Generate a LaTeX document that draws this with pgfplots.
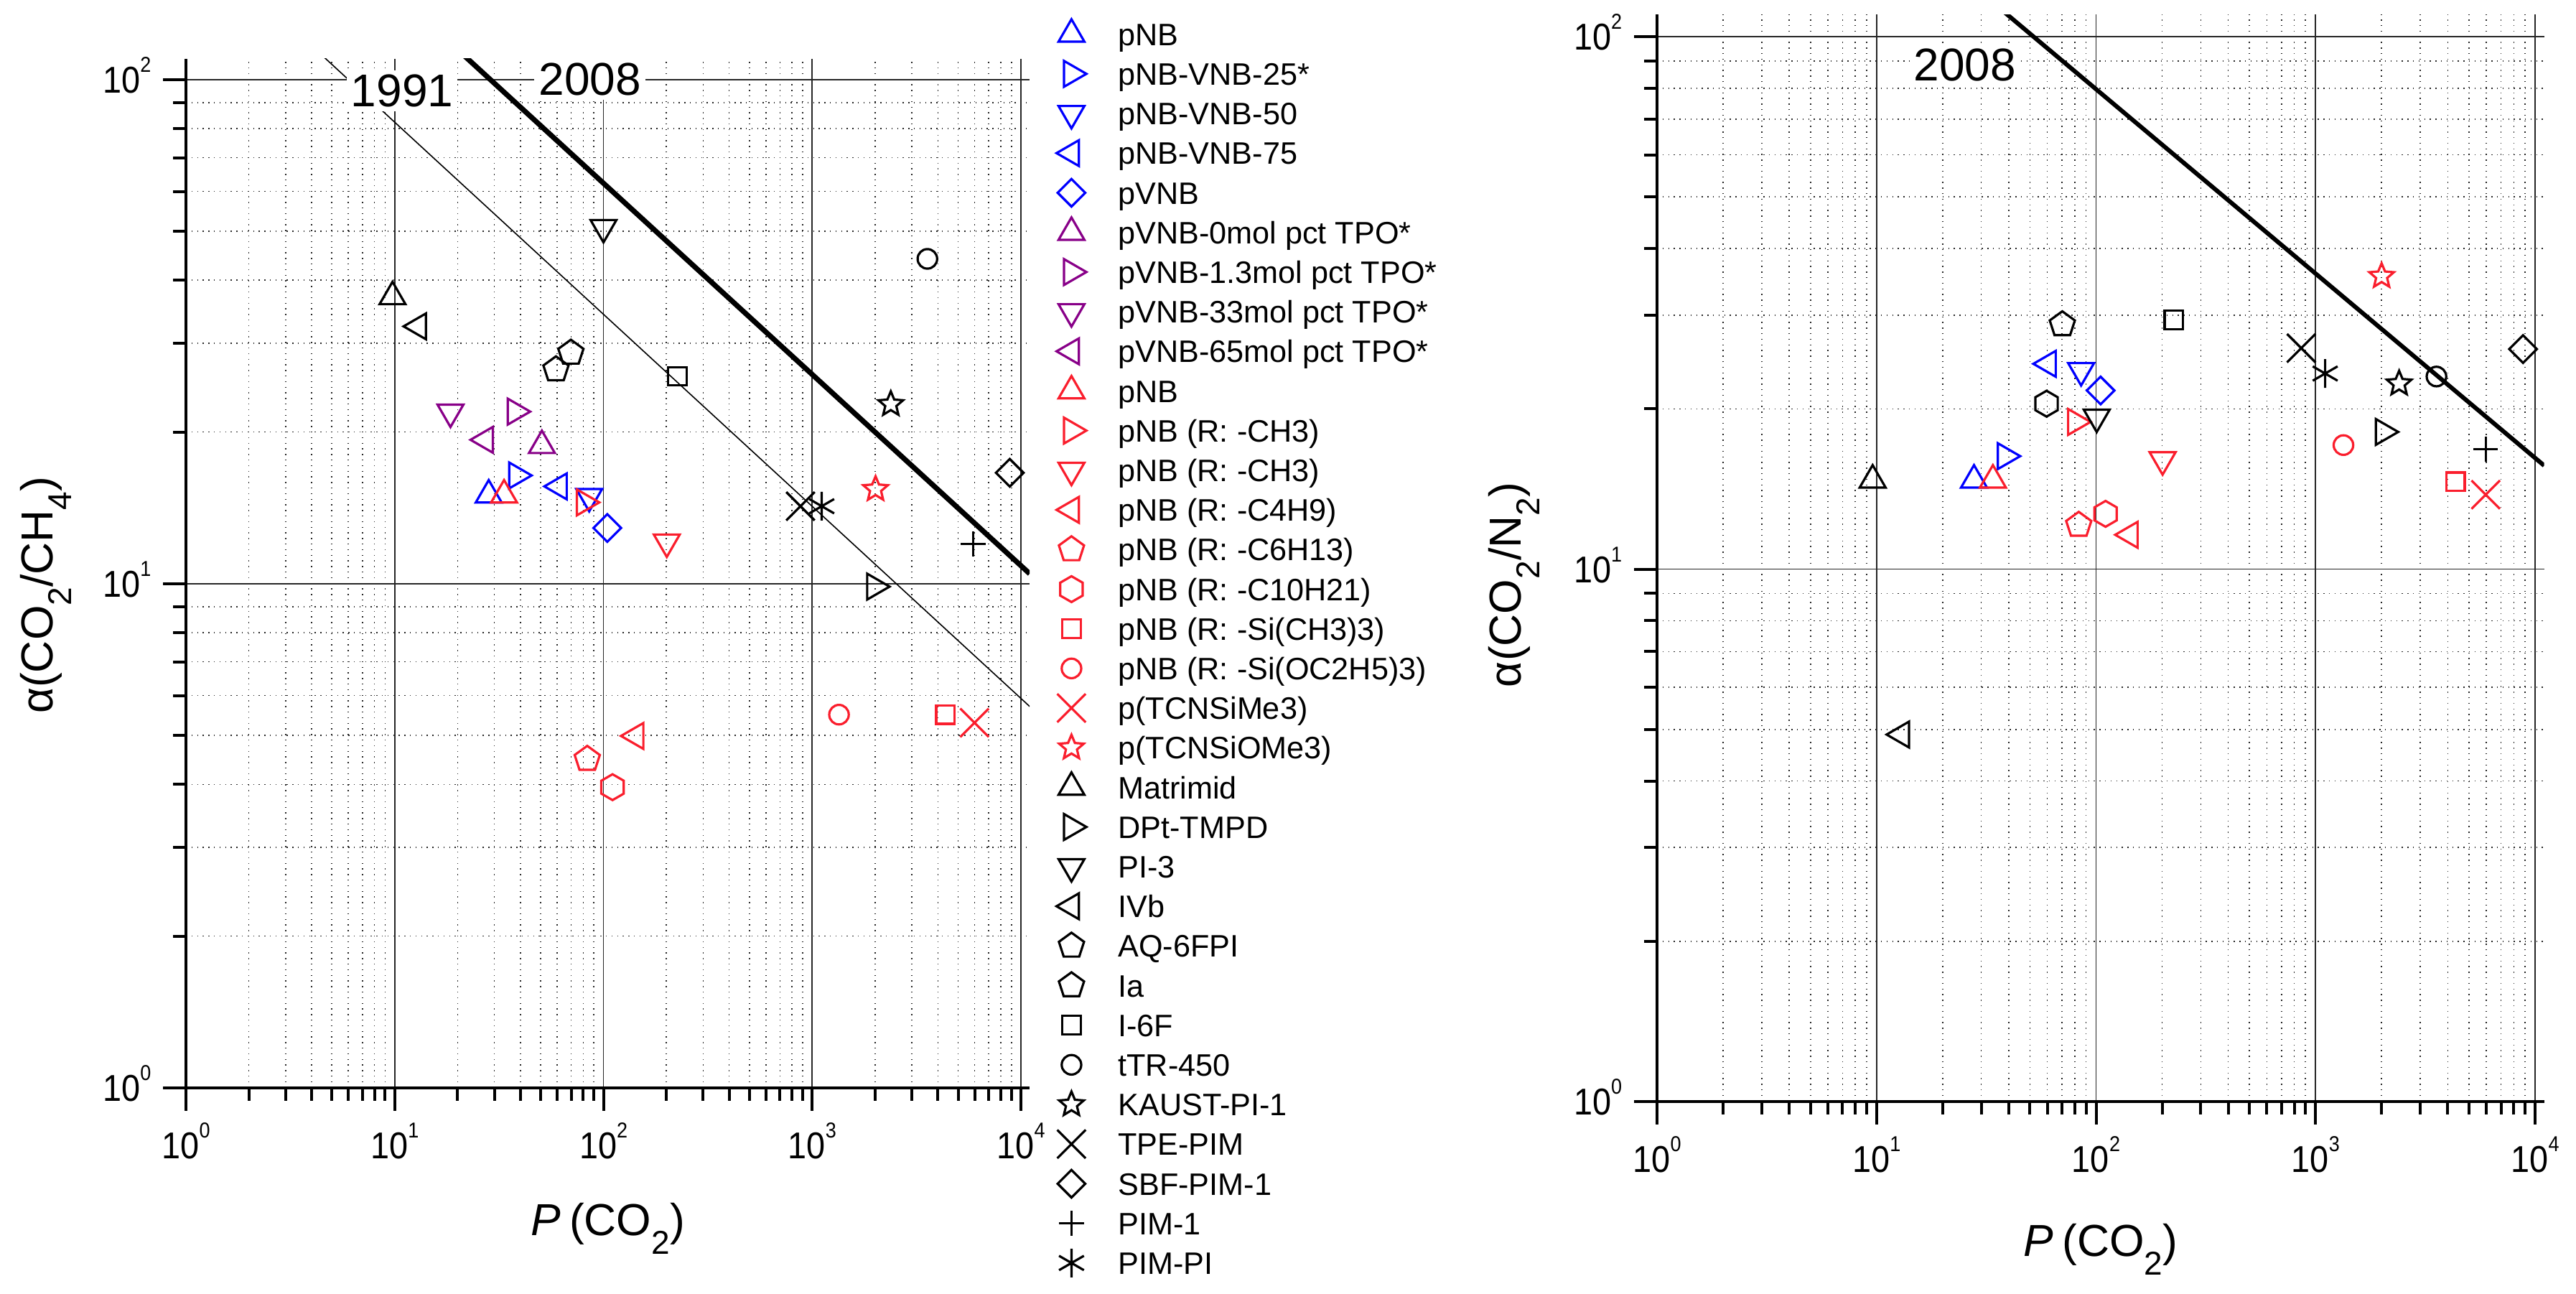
\documentclass[border=0pt]{standalone}
\usepackage{fontspec}
\setmainfont{Liberation Sans}
\newfontfamily\tickfont[FakeStretch=0.9]{Liberation Sans}
\usepackage{pgfplots}
\pgfplotsset{compat=1.18}

\definecolor{myblue}{RGB}{0,0,255}
\definecolor{mypurple}{RGB}{136,0,136}
\definecolor{myred}{RGB}{250,30,45}

\pgfdeclareplotmark{hexagon}{%
  \pgfpathmoveto{\pgfpointpolar{90}{\pgfplotmarksize}}%
  \pgfpathlineto{\pgfpointpolar{150}{\pgfplotmarksize}}%
  \pgfpathlineto{\pgfpointpolar{210}{\pgfplotmarksize}}%
  \pgfpathlineto{\pgfpointpolar{270}{\pgfplotmarksize}}%
  \pgfpathlineto{\pgfpointpolar{330}{\pgfplotmarksize}}%
  \pgfpathlineto{\pgfpointpolar{30}{\pgfplotmarksize}}%
  \pgfpathclose\pgfusepathqstroke}
\pgfdeclareplotmark{ostar}{%
  \pgfpathmoveto{\pgfpointpolar{90}{\pgfplotmarksize}}%
  \pgfpathlineto{\pgfpointpolar{126}{0.45\pgfplotmarksize}}%
  \pgfpathlineto{\pgfpointpolar{162}{\pgfplotmarksize}}%
  \pgfpathlineto{\pgfpointpolar{198}{0.45\pgfplotmarksize}}%
  \pgfpathlineto{\pgfpointpolar{234}{\pgfplotmarksize}}%
  \pgfpathlineto{\pgfpointpolar{270}{0.45\pgfplotmarksize}}%
  \pgfpathlineto{\pgfpointpolar{306}{\pgfplotmarksize}}%
  \pgfpathlineto{\pgfpointpolar{342}{0.45\pgfplotmarksize}}%
  \pgfpathlineto{\pgfpointpolar{18}{\pgfplotmarksize}}%
  \pgfpathlineto{\pgfpointpolar{54}{0.45\pgfplotmarksize}}%
  \pgfpathclose\pgfusepathqstroke}

\newcommand{\tl}[1]{{\tickfont\fontsize{13}{13}\selectfont 10\raisebox{7.2pt}{\fontsize{7.5}{8}\selectfont #1}}}
\newcommand{\sub}[1]{\raisebox{-6.5pt}{\fontsize{11.5}{12}\selectfont #1}}
\newcommand{\lbl}{\fontsize{15.6}{18}\selectfont}

\tikzset{
  mTU/.style={mark=triangle, mark size=5.2pt, mark options={solid, line width=.8pt}},
  mTR/.style={mark=triangle, mark size=5.2pt, mark options={solid, rotate=-90, line width=.8pt}},
  mTD/.style={mark=triangle, mark size=5.2pt, mark options={solid, rotate=180, line width=.8pt}},
  mTL/.style={mark=triangle, mark size=5.2pt, mark options={solid, rotate=90, line width=.8pt}},
  mDI/.style={mark=square, mark size=3.4pt, mark options={solid, rotate=45, line width=.8pt}},
  mPE/.style={mark=pentagon, mark size=4.6pt, mark options={solid, line width=.8pt}},
  mHX/.style={mark=hexagon, mark size=4.5pt, mark options={solid, line width=.8pt}},
  mSQ/.style={mark=square, mark size=3.2pt, mark options={solid, line width=.8pt}},
  mCI/.style={mark=o, mark size=3.4pt, mark options={solid, line width=.8pt}},
  mXX/.style={mark=x, mark size=7pt, mark options={solid, line width=.8pt}},
  mST/.style={mark=ostar, mark size=4.5pt, mark options={solid, line width=.8pt}},
  mPL/.style={mark=+, mark size=4.3pt, mark options={solid, line width=.8pt}},
  mAS/.style={mark=asterisk, mark size=5pt, mark options={solid, line width=.8pt}},
}

\begin{document}
\begin{tikzpicture}
\useasboundingbox (0,0) rectangle (897pt,450.25pt);

% ---------------- left: CO2/CH4 ----------------
\begin{axis}[
  scale only axis,
  xmode=log, ymode=log,
  xmin=1, xmax=11000, ymin=1, ymax=110,
  axis x line=bottom, axis y line=left,
  axis line style={-, line width=1.1pt},
  xtick={1,10,100,1000,10000},
  xticklabels={\tl{0},\tl{1},\tl{2},\tl{3},\tl{4}},
  ytick={1,10,100},
  yticklabels={\tl{0},\tl{1},\tl{2}},
  tick align=outside,
  major tick length=8pt, minor tick length=4.5pt,
  tick style={black, line width=1pt},
  grid=both,
  major grid style={line width=0.45pt, black!85, solid},
  minor grid style={line width=0.4pt, black!85, dash pattern=on 0.35pt off 1.6pt},
  xticklabel style={inner sep=0pt, text height=12.6pt, text depth=0pt, anchor=north, yshift=-3.75pt},
  yticklabel style={inner sep=0pt, text height=12.6pt, text depth=3.3pt, anchor=east, xshift=-4pt},
  at={(64.75pt,71.5pt)}, anchor=south west,
  width=293.8pt, height=358.3pt,
  xlabel={\lbl\textit{P}\hspace{3pt}(CO\sub{2})},
  ylabel={\lbl α(CO\sub{2}/CH\sub{4})},
  xlabel style={at={(axis description cs:0.5,-0.1435)}, anchor=base},
  ylabel style={at={(axis description cs:-0.1575,0.4787)}, anchor=base},
  legend style={draw=none, fill=none, at={(1.02911,1.04311)}, anchor=north west,
    inner sep=0pt, outer sep=0pt, row sep=0pt, column sep=10.25pt,
    font=\fontsize{10.8}{12}\selectfont,
    nodes={inner sep=0pt, outer sep=0pt, text height=10.8pt, text depth=3pt}},
  legend cell align=left,
  legend image code/.code={\path[draw=none, fill=none] (-6pt,-5.4pt) rectangle (6pt,5.4pt);
    \draw[#1] plot coordinates {(0pt,0pt)};},
]
\addplot[black, line width=0.4pt, no marks, forget plot] coordinates {(4,116.7) (11000,5.71)};
\addplot[black, line width=1.8pt, no marks, forget plot] coordinates {(20,114.7) (11000,10.47)};
\node[fill=white, inner sep=1.5pt, font=\fontsize{16}{18}\selectfont] at (axis cs:10.85,94.9) {1991};
\node[fill=white, inner sep=1.5pt, font=\fontsize{16}{18}\selectfont] at (axis cs:86.1,100) {2008};

\addplot[only marks, color=myblue, mTU] coordinates {(28.2,15.0)}; \addlegendentry{pNB}
\addplot[only marks, color=myblue, mTR] coordinates {(38.4,16.4)}; \addlegendentry{pNB-VNB-25*}
\addplot[only marks, color=myblue, mTD] coordinates {(85.4,14.9)}; \addlegendentry{pNB-VNB-50}
\addplot[only marks, color=myblue, mTL] coordinates {(61.4,15.6)}; \addlegendentry{pNB-VNB-75}
\addplot[only marks, color=myblue, mDI] coordinates {(104.3,12.9)}; \addlegendentry{pVNB}
\addplot[only marks, color=mypurple, mTU] coordinates {(50.7,18.8)}; \addlegendentry{pVNB-0mol pct TPO*}
\addplot[only marks, color=mypurple, mTR] coordinates {(37.8,21.95)}; \addlegendentry{pVNB-1.3mol pct TPO*}
\addplot[only marks, color=mypurple, mTD] coordinates {(18.5,21.9)}; \addlegendentry{pVNB-33mol pct TPO*}
\addplot[only marks, color=mypurple, mTL] coordinates {(27.2,19.3)}; \addlegendentry{pVNB-65mol pct TPO*}
\addplot[only marks, color=myred, mTU] coordinates {(33.4,15.0)}; \addlegendentry{pNB}
\addplot[only marks, color=myred, mTR] coordinates {(81,14.5)}; \addlegendentry{pNB (R: -CH3)}
\addplot[only marks, color=myred, mTD] coordinates {(201,12.1)}; \addlegendentry{pNB (R: -CH3)}
\addplot[only marks, color=myred, mTL] coordinates {(143,4.99)}; \addlegendentry{pNB (R: -C4H9)}
\addplot[only marks, color=myred, mPE] coordinates {(83.6,4.49)}; \addlegendentry{pNB (R: -C6H13)}
\addplot[only marks, color=myred, mHX] coordinates {(110.5,3.95)}; \addlegendentry{pNB (R: -C10H21)}
\addplot[only marks, color=myred, mSQ] coordinates {(4340,5.5)}; \addlegendentry{pNB (R: -Si(CH3)3)}
\addplot[only marks, color=myred, mCI] coordinates {(1343,5.5)}; \addlegendentry{pNB (R: -Si(OC2H5)3)}
\addplot[only marks, color=myred, mXX] coordinates {(5985,5.3)}; \addlegendentry{p(TCNSiMe3)}
\addplot[only marks, color=myred, mST] coordinates {(2010,15.4)}; \addlegendentry{p(TCNSiOMe3)}
\addplot[only marks, color=black, mTU] coordinates {(9.76,37.1)}; \addlegendentry{Matrimid}
\addplot[only marks, color=black, mTR] coordinates {(1990,9.87)}; \addlegendentry{DPt-TMPD}
\addplot[only marks, color=black, mTD] coordinates {(100,50.9)}; \addlegendentry{PI-3}
\addplot[only marks, color=black, mTL] coordinates {(13.0,32.4)}; \addlegendentry{IVb}
\addplot[only marks, color=black, mPE] coordinates {(59.2,26.6)}; \addlegendentry{AQ-6FPI}
\addplot[only marks, color=black, mPE] coordinates {(69.8,28.7)}; \addlegendentry{Ia}
\addplot[only marks, color=black, mSQ] coordinates {(226,25.8)}; \addlegendentry{I-6F}
\addplot[only marks, color=black, mCI] coordinates {(3560,44.1)}; \addlegendentry{tTR-450}
\addplot[only marks, color=black, mST] coordinates {(2378,22.7)}; \addlegendentry{KAUST-PI-1}
\addplot[only marks, color=black, mXX] coordinates {(878,14.25)}; \addlegendentry{TPE-PIM}
\addplot[only marks, color=black, mDI] coordinates {(8830,16.6)}; \addlegendentry{SBF-PIM-1}
\addplot[only marks, color=black, mPL] coordinates {(5900,12.0)}; \addlegendentry{PIM-1}
\addplot[only marks, color=black, mAS] coordinates {(1110,14.25)}; \addlegendentry{PIM-PI}
\end{axis}

% ---------------- right: CO2/N2 ----------------
\begin{axis}[
  scale only axis,
  xmode=log, ymode=log,
  xmin=1, xmax=11000, ymin=1, ymax=110,
  axis x line=bottom, axis y line=left,
  axis line style={-, line width=1.1pt},
  xtick={1,10,100,1000,10000},
  xticklabels={\tl{0},\tl{1},\tl{2},\tl{3},\tl{4}},
  ytick={1,10,100},
  yticklabels={\tl{0},\tl{1},\tl{2}},
  tick align=outside,
  major tick length=8pt, minor tick length=4.5pt,
  tick style={black, line width=1pt},
  grid=both,
  major grid style={line width=0.45pt, black!85, solid},
  minor grid style={line width=0.4pt, black!85, dash pattern=on 0.35pt off 1.6pt},
  xticklabel style={inner sep=0pt, text height=12.6pt, text depth=0pt, anchor=north, yshift=-3.75pt},
  yticklabel style={inner sep=0pt, text height=12.6pt, text depth=3.3pt, anchor=east, xshift=-4pt},
  at={(577pt,66.75pt)}, anchor=south west,
  width=308.9pt, height=378.4pt,
  xlabel={\lbl\textit{P}\hspace{3pt}(CO\sub{2})},
  ylabel={\lbl α(CO\sub{2}/N\sub{2})},
  xlabel style={at={(axis description cs:0.5,-0.1427)}, anchor=base},
  ylabel style={at={(axis description cs:-0.153,0.4753)}, anchor=base},
]
\addplot[black, line width=1.5pt, no marks, forget plot] coordinates {(25,128.8) (11000,15.65)};
\node[fill=white, inner sep=1.5pt, font=\fontsize{16}{18}\selectfont] at (axis cs:25.25,88.4) {2008};

\addplot[only marks, color=myblue, mTU] coordinates {(27.8,14.7)};
\addplot[only marks, color=myblue, mTR] coordinates {(38.6,16.3)};
\addplot[only marks, color=myblue, mTD] coordinates {(85.5,23.6)};
\addplot[only marks, color=myblue, mTL] coordinates {(60.6,24.3)};
\addplot[only marks, color=myblue, mDI] coordinates {(104.9,21.65)};
\addplot[only marks, color=myred, mTU] coordinates {(33.9,14.7)};
\addplot[only marks, color=myred, mTR] coordinates {(80.7,18.9)};
\addplot[only marks, color=myred, mTD] coordinates {(201,16.05)};
\addplot[only marks, color=myred, mTL] coordinates {(143,11.6)};
\addplot[only marks, color=myred, mPE] coordinates {(83.4,12.1)};
\addplot[only marks, color=myred, mHX] coordinates {(110.5,12.7)};
\addplot[only marks, color=myred, mSQ] coordinates {(4340,14.6)};
\addplot[only marks, color=myred, mCI] coordinates {(1340,17.1)};
\addplot[only marks, color=myred, mXX] coordinates {(5960,13.8)};
\addplot[only marks, color=myred, mST] coordinates {(2000,35.5)};
\addplot[only marks, color=black, mTU] coordinates {(9.6,14.7)};
\addplot[only marks, color=black, mTR] coordinates {(2035,18.1)};
\addplot[only marks, color=black, mTD] coordinates {(100.7,19.3)};
\addplot[only marks, color=black, mTL] coordinates {(13.0,4.89)};
\addplot[only marks, color=black, mHX] coordinates {(59.5,20.45)};
\addplot[only marks, color=black, mPE] coordinates {(70.2,28.8)};
\addplot[only marks, color=black, mSQ] coordinates {(226,29.4)};
\addplot[only marks, color=black, mCI] coordinates {(3555,23.0)};
\addplot[only marks, color=black, mST] coordinates {(2403,22.3)};
\addplot[only marks, color=black, mXX] coordinates {(861,26.0)};
\addplot[only marks, color=black, mDI] coordinates {(8820,25.9)};
\addplot[only marks, color=black, mPL] coordinates {(5960,16.8)};
\addplot[only marks, color=black, mAS] coordinates {(1106,23.3)};
\end{axis}
\end{tikzpicture}
\end{document}
